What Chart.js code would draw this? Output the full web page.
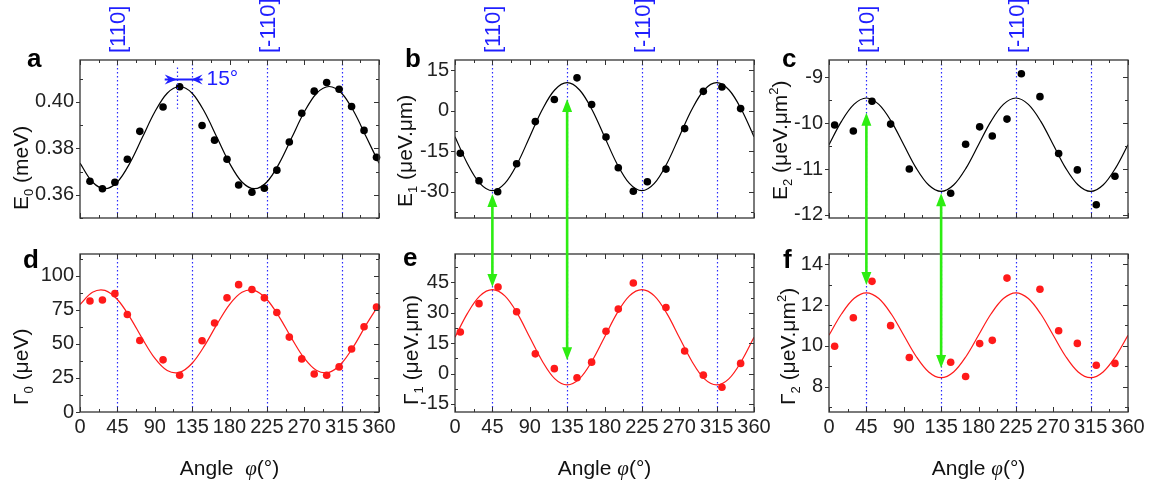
<!DOCTYPE html>
<html>
<head>
<meta charset="utf-8">
<script src="https://cdn.jsdelivr.net/npm/chart.js@4.4.1/dist/chart.umd.min.js"></script>
<style>
  html, body { margin: 0; padding: 0; background: #fff; }
  body { width: 1153px; height: 486px; position: relative; overflow: hidden; }
  canvas.panel { position: absolute; }
  #overlay { position: absolute; left: 0; top: 0; z-index: 10; pointer-events: none; }
</style>
</head>
<body>
<script>
// ---- data ----
const xTicks = [0, 45, 90, 135, 180, 225, 270, 315, 360];
const axisMarks = [45, 135, 225, 315];
const crystalAngles = [45, 225];
const crystalLabels = ['[110]', '[-110]'];

const fitAngles = [0, 15, 30, 45, 60, 75, 90, 105, 120, 135, 150, 165, 180,
  195, 210, 225, 240, 255, 270, 285, 300, 315, 330, 345, 360];

const angleAD = [12, 27, 42, 57, 72, 100, 120, 147, 162, 177, 191, 207, 222, 237, 252, 267, 282, 297, 312, 327, 342, 357];
const e0 = [0.3658, 0.3626, 0.3654, 0.3753, 0.3873, 0.3978, 0.4065, 0.3898, 0.3835, 0.3753, 0.3642,
  0.3611, 0.3628, 0.3706, 0.3827, 0.3951, 0.4046, 0.4083, 0.4054, 0.3980, 0.3877, 0.3761];
const e0Fit = [0.3736, 0.3655, 0.3626, 0.3655, 0.3736, 0.3846, 0.3956, 0.4037, 0.4066, 0.4037, 0.3956, 0.3846, 0.3736,
  0.3655, 0.3626, 0.3655, 0.3736, 0.3846, 0.3956, 0.4037, 0.4066, 0.4037, 0.3956, 0.3846, 0.3736];
const g0 = [81.5, 82.2, 86.9, 71.6, 52.5, 38.3, 27.0, 52.3, 65.3, 83.8, 93.5,
  89.9, 83.8, 73.0, 55.0, 39.0, 27.9, 27.0, 33.1, 46.2, 62.6, 77.0];
const g0Fit = [78.9, 87.9, 89.3, 82.6, 69.7, 53.9, 39.5, 30.4, 29.1, 35.8, 48.7, 64.5, 78.9,
  87.9, 89.3, 82.6, 69.7, 53.9, 39.5, 30.4, 29.1, 35.8, 48.7, 64.5, 78.9];

const angleB = [6.4, 28.9, 51.4, 74.2, 96.7, 119.6, 146.9, 164.5, 181.8, 196.6, 214.7, 231.6, 254, 276.5, 299, 321.4, 343.9];
const e1 = [-15.7, -25.9, -30.0, -19.6, -4.0, 4.2, 12.2, 2.3, -9.7, -21.1, -29.8, -26.3, -21.6, -6.6, 7.2, 8.8, 0.8];
const e1Fit = [-9.6, -19.6, -26.9, -29.6, -26.9, -19.6, -9.6, 0.4, 7.7, 10.4, 7.7, 0.4, -9.6,
  -19.6, -26.9, -29.6, -26.9, -19.6, -9.6, 0.4, 7.7, 10.4, 7.7, 0.4, -9.6];

const angleE = [6.4, 28.9, 51.8, 74.2, 96.7, 119.6, 146.9, 164.5, 181.8, 196.6, 214.7, 254, 276.5, 299, 321.4, 343.9];
const g1 = [20.5, 34.5, 42.7, 30.5, 9.7, 2.4, -2.1, 5.6, 20.9, 31.8, 44.7, 32.6, 11.1, -0.8, -6.8, 5.0];
const g1Fit = [17.9, 29.7, 38.3, 41.4, 38.3, 29.7, 17.9, 6.2, -2.5, -5.6, -2.5, 6.2, 17.9,
  29.7, 38.3, 41.4, 38.3, 29.7, 17.9, 6.2, -2.5, -5.6, -2.5, 6.2, 17.9];

const angleC = [6.8, 29.3, 51.8, 74.2, 96.7, 146.5, 164.5, 181.4, 196.6, 214.3, 231.6, 254, 276.5, 299, 321.8, 344.3];
const e2 = [-10.04, -10.17, -9.52, -10.02, -11.0, -11.53, -10.46, -10.08, -10.28, -9.91, -8.92, -9.42, -10.66, -11.02, -11.78, -11.16];
const e2Fit = [-10.47, -9.96, -9.59, -9.45, -9.59, -9.96, -10.47, -10.98, -11.35, -11.49, -11.35, -10.98, -10.47,
  -9.96, -9.59, -9.45, -9.59, -9.96, -10.47, -10.98, -11.35, -11.49, -11.35, -10.98, -10.47];

const angleF = [6.8, 29.3, 51.8, 74.2, 96.7, 146.5, 164.5, 181.4, 196.6, 214.3, 254, 276.5, 299, 321.8, 344.3];
const g2 = [9.98, 11.38, 13.16, 10.99, 9.43, 9.20, 8.50, 10.11, 10.27, 13.32, 12.77, 10.74, 10.12, 9.05, 9.14];
const g2Fit = [10.52, 11.56, 12.32, 12.60, 12.32, 11.56, 10.52, 9.48, 8.72, 8.44, 8.72, 9.48, 10.52,
  11.56, 12.32, 12.60, 12.32, 11.56, 10.52, 9.48, 8.72, 8.44, 8.72, 9.48, 10.52];

const e0Ticks = [0.36, 0.38, 0.40];
const e1Ticks = [-30, -15, 0, 15];
const e2Ticks = [-12, -11, -10, -9];
const g0Ticks = [0, 25, 50, 75, 100];
const g1Ticks = [-15, 0, 15, 30, 45];
const g2Ticks = [8, 10, 12, 14];

// ---- layout / style ----
const FONT = '"Liberation Sans", Arial, sans-serif';
const colLeft = [80, 455, 829];
const rowTop = [60, 241];
const plotW = 299, plotH = 171;
const big = `21px ${FONT}`;
const small = `13px ${FONT}`;
const markBlue = '#2a2aff';
const labelBlue = '#1f1fff';

Chart.defaults.font.family = FONT;

function yTitle(sym, sub, unit, sup) {
  const parts = [{ text: sym, font: big }, { text: sub, font: small, dy: 5 }, { text: ' (' + unit, font: big }];
  if (sup) parts.push({ text: sup, font: small, dy: -9 });
  parts.push({ text: ')', font: big });
  return parts;
}

const panels = [
  { key: 'a', col: 0, row: 0, xs: angleAD, ys: e0, fit: e0Fit, color: '#000', yMin: 0.35, yMax: 0.418, yTicks: e0Ticks, yMinor: 0.01, fmt: v => v.toFixed(2),
    title: yTitle('E', '0', 'meV'), titleDx: -52, titleDy: 150, letterDx: -53, letterDy: 7 },
  { key: 'b', col: 1, row: 0, xs: angleB, ys: e1, fit: e1Fit, color: '#000', yMin: -39.7, yMax: 18.8, yTicks: e1Ticks, yMinor: 7.5, fmt: v => String(v),
    title: yTitle('E', '1', 'μeV.μm'), titleDx: -43, titleDy: 147, letterDx: -50, letterDy: 7 },
  { key: 'c', col: 2, row: 0, xs: angleC, ys: e2, fit: e2Fit, color: '#000', yMin: -12.07, yMax: -8.62, yTicks: e2Ticks, yMinor: 0.5, fmt: v => String(v),
    title: yTitle('E', '2', 'μeV.μm', '2'), titleDx: -42, titleDy: 140, letterDx: -47, letterDy: 7 },
  { key: 'd', col: 0, row: 1, xs: angleAD, ys: g0, fit: g0Fit, color: '#ff1a1a', yMin: 0, yMax: 116, yTicks: g0Ticks, yMinor: 12.5, fmt: v => String(v),
    title: yTitle('Γ', '0', 'μeV'), titleDx: -52, titleDy: 151, letterDx: -57, letterDy: 14, xTitle: 'Angle  ' },
  { key: 'e', col: 1, row: 1, xs: angleE, ys: g1, fit: g1Fit, color: '#ff1a1a', yMin: -19, yMax: 59, yTicks: g1Ticks, yMinor: 7.5, fmt: v => String(v),
    title: yTitle('Γ', '1', 'μeV.μm'), titleDx: -37, titleDy: 151, letterDx: -52, letterDy: 12, xTitle: 'Angle ' },
  { key: 'f', col: 2, row: 1, xs: angleF, ys: g2, fit: g2Fit, color: '#ff1a1a', yMin: 6.76, yMax: 14.5, yTicks: g2Ticks, yMinor: 1, fmt: v => String(v),
    title: yTitle('Γ', '2', 'μeV.μm', '2'), titleDx: -34, titleDy: 151, letterDx: -46, letterDy: 14, xTitle: 'Angle ' }
];

// 15° shift marker in panel a (data units)
const shiftMark = { peak: 117, peakFrom: 0.397, peakTo: 0.4148, from: 102, tipL: 116.5, tipR: 134.5, to: 147.5, y: 0.4096, label: '15°' };

// green arrows linking top and bottom panels
const linkArrows = [
  { from: 'b', to: 'e', angle: 45, yFrom: -30.8, yTo: 42.7 },
  { from: 'b', to: 'e', angle: 135, yFrom: 4.4, yTo: 6.5 },
  { from: 'c', to: 'f', angle: 45, yFrom: -9.77, yTo: 12.98 },
  { from: 'c', to: 'f', angle: 135, yFrom: -11.53, yTo: 8.92 }
];

function richText(ctx, parts, x, y, rotate, align) {
  ctx.save();
  ctx.translate(x, y);
  if (rotate) ctx.rotate(-Math.PI / 2);
  ctx.textBaseline = 'alphabetic';
  ctx.textAlign = 'left';
  let total = 0;
  parts.forEach(p => { ctx.font = p.font; p.w = ctx.measureText(p.text).width; total += p.w; });
  let cx = align === 'center' ? -total / 2 : 0;
  parts.forEach(p => {
    ctx.font = p.font;
    ctx.fillStyle = p.color || '#111';
    ctx.fillText(p.text, cx, p.dy || 0);
    cx += p.w;
  });
  ctx.restore();
}

function panelPlugin(p) {
  return {
    id: 'panel_' + p.key,
    beforeDatasetsDraw(chart) {
      const { ctx, chartArea: a, scales: { x } } = chart;
      ctx.save();
      ctx.strokeStyle = markBlue;
      ctx.lineWidth = 1.2;
      ctx.setLineDash([1.5, 2.5]);
      axisMarks.forEach(v => {
        const px = Math.round(x.getPixelForValue(v)) + 0.5;
        ctx.beginPath(); ctx.moveTo(px, a.top); ctx.lineTo(px, a.bottom); ctx.stroke();
      });
      ctx.restore();
    },
    afterDatasetsDraw(chart) {
      const { ctx, chartArea: a, scales: { x, y } } = chart;
      ctx.save();
      ctx.strokeStyle = '#333';
      ctx.lineWidth = 1.3;
      ctx.strokeRect(a.left, a.top, a.right - a.left, a.bottom - a.top);
      ctx.lineWidth = 1;
      ctx.beginPath();
      xTicks.forEach((v, i) => {
        const px = Math.round(x.getPixelForValue(v)) + 0.5;
        ctx.moveTo(px, a.bottom); ctx.lineTo(px, a.bottom - 5);
        ctx.moveTo(px, a.top); ctx.lineTo(px, a.top + 5);
        if (i < xTicks.length - 1) {
          const mx = Math.round(x.getPixelForValue(v + 22.5)) + 0.5;
          ctx.moveTo(mx, a.bottom); ctx.lineTo(mx, a.bottom - 3);
          ctx.moveTo(mx, a.top); ctx.lineTo(mx, a.top + 3);
        }
      });
      p.yTicks.forEach(v => {
        const py = Math.round(y.getPixelForValue(v)) + 0.5;
        ctx.moveTo(a.left - 4, py); ctx.lineTo(a.left, py);
        ctx.moveTo(a.right, py); ctx.lineTo(a.right - 5, py);
      });
      const start = Math.ceil(p.yMin / p.yMinor - 1e-6) * p.yMinor;
      for (let v = start; v <= p.yMax + 1e-9; v += p.yMinor) {
        if (p.yTicks.some(t => Math.abs(t - v) < p.yMinor / 10)) continue;
        const py = Math.round(y.getPixelForValue(v)) + 0.5;
        ctx.moveTo(a.left, py); ctx.lineTo(a.left + 3, py);
        ctx.moveTo(a.right, py); ctx.lineTo(a.right - 3, py);
      }
      ctx.stroke();
      ctx.restore();
    },
    afterDraw(chart) {
      const { ctx, chartArea: a, scales: { x, y } } = chart;
      // y axis title
      richText(ctx, p.title, a.left + p.titleDx, a.top + p.titleDy, true);
      // panel letter
      ctx.save();
      ctx.font = `bold 26px ${FONT}`;
      ctx.fillStyle = '#000';
      ctx.textAlign = 'left';
      ctx.textBaseline = 'alphabetic';
      ctx.fillText(p.key, a.left + p.letterDx, a.top + p.letterDy);
      ctx.restore();
      if (p.xTitle) {
        richText(ctx, [
          { text: p.xTitle, font: big },
          { text: 'φ', font: `italic 21px "Liberation Serif", serif` },
          { text: '(°)', font: big }
        ], (a.left + a.right) / 2, a.bottom + 63, false, 'center');
      }
      if (p.row === 0) {
        ctx.save();
        ctx.font = `22px ${FONT}`;
        ctx.fillStyle = labelBlue;
        crystalAngles.forEach((v, i) => {
          ctx.save();
          ctx.translate(x.getPixelForValue(v) + 2, a.top - 7);
          ctx.rotate(-Math.PI / 2);
          ctx.textAlign = 'left';
          ctx.textBaseline = 'middle';
          ctx.fillText(crystalLabels[i], 0, 0);
          ctx.restore();
        });
        ctx.restore();
      }
      if (p.key === 'a') {
        const s = shiftMark;
        ctx.save();
        ctx.strokeStyle = markBlue;
        ctx.fillStyle = labelBlue;
        ctx.lineWidth = 1.2;
        ctx.setLineDash([1.5, 2.5]);
        const pk = Math.round(x.getPixelForValue(s.peak)) + 0.5;
        ctx.beginPath();
        ctx.moveTo(pk, y.getPixelForValue(s.peakTo));
        ctx.lineTo(pk, y.getPixelForValue(s.peakFrom));
        ctx.stroke();
        ctx.setLineDash([]);
        const yy = y.getPixelForValue(s.y);
        const x0 = x.getPixelForValue(s.from), x1 = x.getPixelForValue(s.to);
        const tl = x.getPixelForValue(s.tipL), tr = x.getPixelForValue(s.tipR);
        ctx.lineWidth = 2;
        ctx.strokeStyle = labelBlue;
        ctx.beginPath(); ctx.moveTo(x0, yy); ctx.lineTo(x1, yy); ctx.stroke();
        ctx.beginPath();
        ctx.moveTo(tl, yy); ctx.lineTo(x0, yy - 5); ctx.lineTo(x0 + 4, yy); ctx.lineTo(x0, yy + 5); ctx.closePath();
        ctx.moveTo(tr, yy); ctx.lineTo(x1, yy - 5); ctx.lineTo(x1 - 4, yy); ctx.lineTo(x1, yy + 5); ctx.closePath();
        ctx.fill();
        ctx.font = big;
        ctx.textBaseline = 'middle';
        ctx.textAlign = 'left';
        ctx.fillText(s.label, x1 + 4, yy);
        ctx.restore();
      }
    }
  };
}

const charts = {};
const offsets = {};

panels.forEach(p => {
  const L = colLeft[p.col], T = rowTop[p.row];
  const top = p.row === 0 ? 0 : 236;
  const bottomH = p.row === 0 ? 5 : 74;
  const canvas = document.createElement('canvas');
  canvas.className = 'panel';
  canvas.width = 80 + plotW + 25;
  canvas.height = (T - top) + plotH + bottomH;
  canvas.style.left = (L - 80) + 'px';
  canvas.style.top = top + 'px';
  document.body.appendChild(canvas);
  offsets[p.key] = { left: L - 80, top: top };

  charts[p.key] = new Chart(canvas, {
    type: 'scatter',
    data: {
      datasets: [
        {
          data: p.xs.map((v, i) => ({ x: v, y: p.ys[i] })),
          pointRadius: 3.8,
          pointBackgroundColor: p.color,
          pointBorderWidth: 0,
          showLine: false,
          clip: false
        },
        {
          data: fitAngles.map((v, i) => ({ x: v, y: p.fit[i] })),
          showLine: true,
          pointRadius: 0,
          borderColor: p.color,
          borderWidth: 1.2,
          tension: 0.34,
          fill: false
        }
      ]
    },
    options: {
      responsive: false,
      animation: false,
      events: [],
      layout: { autoPadding: false, padding: { left: 0, right: 25, top: T - top, bottom: 0 } },
      plugins: { legend: { display: false }, tooltip: { enabled: false } },
      scales: {
        x: {
          type: 'linear',
          min: 0,
          max: 360,
          afterBuildTicks: s => { s.ticks = xTicks.map(v => ({ value: v })); },
          afterFit: s => { s.height = bottomH; },
          grid: { display: false, drawTicks: false },
          border: { display: false },
          ticks: { display: p.row === 1, autoSkip: false, maxRotation: 0, padding: 3, color: '#222', font: { size: 20 } }
        },
        y: {
          type: 'linear',
          min: p.yMin,
          max: p.yMax,
          afterBuildTicks: s => { s.ticks = p.yTicks.map(v => ({ value: v })); },
          afterFit: s => { s.width = 80; },
          grid: { display: false, drawTicks: false },
          border: { display: false },
          ticks: { autoSkip: false, padding: 6, color: '#222', font: { size: 20 }, callback: v => p.fmt(v) }
        }
      }
    },
    plugins: [panelPlugin(p)]
  });
});

// overlay with green arrows that link the two rows
const overlay = document.createElement('canvas');
overlay.id = 'overlay';
overlay.width = 1153;
overlay.height = 486;
document.body.appendChild(overlay);
const octx = overlay.getContext('2d');
octx.strokeStyle = '#2ded12';
octx.fillStyle = '#2ded12';
octx.lineWidth = 2.6;
linkArrows.forEach(ar => {
  const cA = charts[ar.from], cB = charts[ar.to];
  const px = offsets[ar.from].left + cA.scales.x.getPixelForValue(ar.angle);
  const y1 = offsets[ar.from].top + cA.scales.y.getPixelForValue(ar.yFrom);
  const y2 = offsets[ar.to].top + cB.scales.y.getPixelForValue(ar.yTo);
  const head = 13, hw = 5;
  octx.beginPath();
  octx.moveTo(px, y1 + head - 1);
  octx.lineTo(px, y2 - head + 1);
  octx.stroke();
  octx.beginPath();
  octx.moveTo(px, y1); octx.lineTo(px - hw, y1 + head); octx.lineTo(px + hw, y1 + head); octx.closePath();
  octx.moveTo(px, y2); octx.lineTo(px - hw, y2 - head); octx.lineTo(px + hw, y2 - head); octx.closePath();
  octx.fill();
});
</script>
</body>
</html>
